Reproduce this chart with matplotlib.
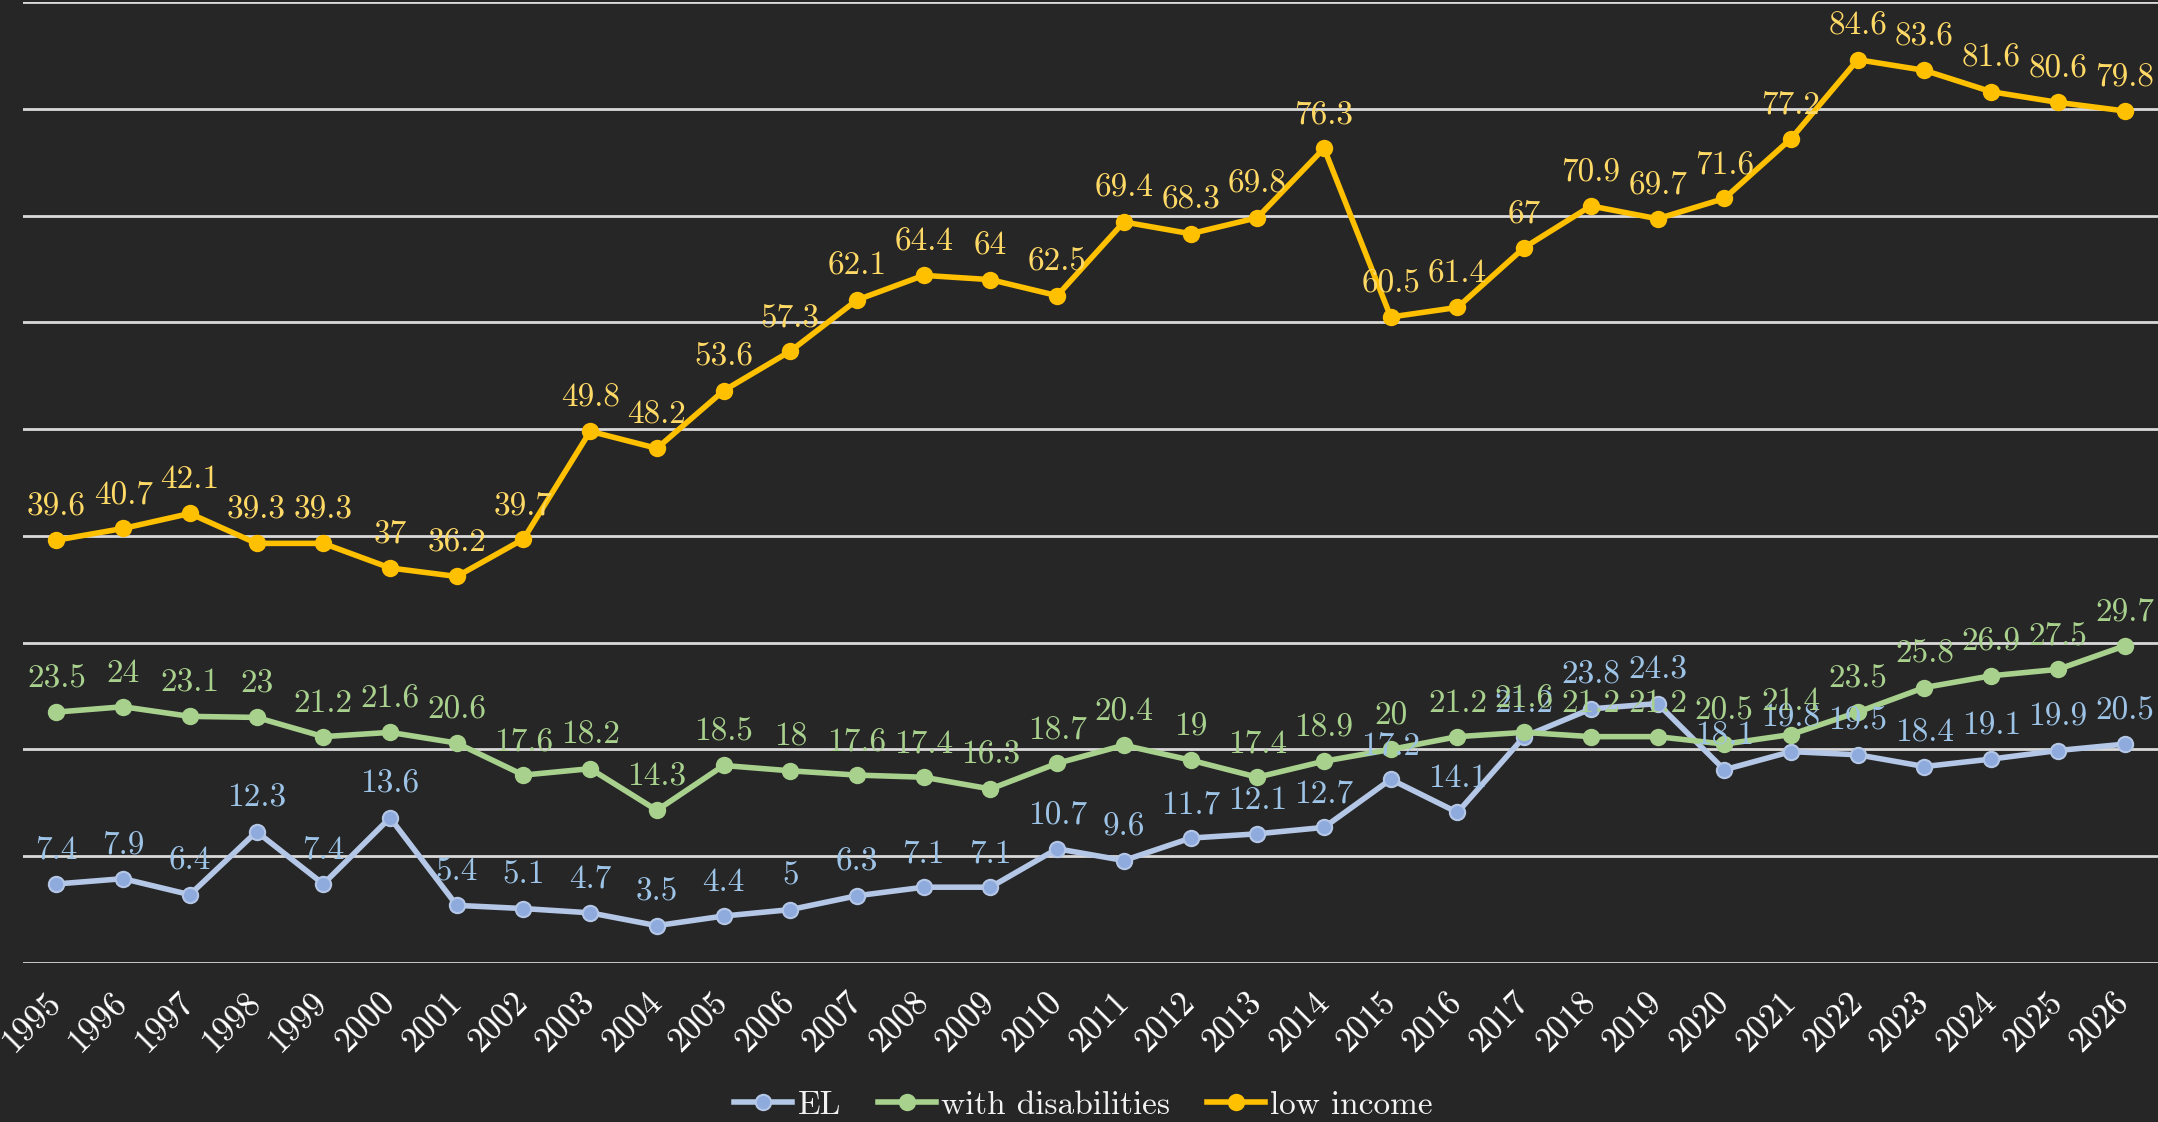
import matplotlib
matplotlib.use("Agg")
import matplotlib.pyplot as plt

# data
years = [str(y) for y in range(1995, 2027)]
el = [7.4, 7.9, 6.4, 12.3, 7.4, 13.6, 5.4, 5.1, 4.7, 3.5,
      4.4, 5, 6.3, 7.1, 7.1, 10.7, 9.6, 11.7, 12.1, 12.7,
      17.2, 14.1, 21.2, 23.8, 24.3, 18.1, 19.8, 19.5, 18.4, 19.1,
      19.9, 20.5]
disab = [23.5, 24, 23.1, 23, 21.2, 21.6, 20.6, 17.6, 18.2, 14.3,
         18.5, 18, 17.6, 17.4, 16.3, 18.7, 20.4, 19, 17.4, 18.9,
         20, 21.2, 21.6, 21.2, 21.2, 20.5, 21.4, 23.5, 25.8, 26.9,
         27.5, 29.7]
low_inc = [39.6, 40.7, 42.1, 39.3, 39.3, 37, 36.2, 39.7, 49.8, 48.2,
           53.6, 57.3, 62.1, 64.4, 64, 62.5, 69.4, 68.3, 69.8, 76.3,
           60.5, 61.4, 67, 70.9, 69.7, 71.6, 77.2, 84.6, 83.6, 81.6,
           80.6, 79.8]
series_names = ["EL", "with disabilities", "low income"]

bg = "#262626"
plt.rcParams['font.family'] = ['cmr10', 'DejaVu Serif']
plt.rcParams['axes.formatter.use_mathtext'] = True

fig = plt.figure(figsize=(21.58, 11.22), dpi=100, facecolor=bg)
ax = fig.add_axes([0.0107, 0.1417, 0.9893, 0.8565])
ax.set_facecolor(bg)

x = list(range(len(years)))

# (values, line colour, marker face, marker edge, label colour)
styles = [
    (el, "#B4C7E7", "#8FAADC", "#B4C7E7", "#9DC3E6"),
    (disab, "#A9D18E", "#A9D18E", "#A9D18E", "#A9D18E"),
    (low_inc, "#FFC000", "#FFC000", "#FFC000", "#FFD966"),
]

for (vals, lc, mf, me, tc), name in zip(styles, series_names):
    ax.plot(x, vals, color=lc, lw=4, marker='o', ms=11,
            markerfacecolor=mf, markeredgecolor=me, markeredgewidth=1.5,
            label=name, zorder=3)
    for xi, v in zip(x, vals):
        ax.annotate(f"{v:g}", (xi, v), xytext=(0, 18), textcoords='offset points',
                    ha='center', va='baseline', fontsize=24, color=tc, zorder=4)

ax.set_xlim(-0.5, len(years) - 0.5)
ax.set_ylim(0, 90)
ax.set_yticks(range(0, 91, 10))
ax.yaxis.grid(True, color="#D9D9D9", lw=2)
ax.set_axisbelow(True)
ax.tick_params(axis='y', left=False, labelleft=False)
ax.tick_params(axis='x', length=0, pad=25, colors='white')
ax.set_xticks(x)
ax.set_xticklabels(years, rotation=45, ha='right', va='center',
                   rotation_mode='anchor', fontsize=25, color='white')
for s in ax.spines.values():
    s.set_visible(False)

leg = fig.legend(loc='center', bbox_to_anchor=(0.502, 0.015), ncol=3,
                 frameon=False, fontsize=24, handlelength=1.75,
                 columnspacing=1.1, handletextpad=0.15, borderpad=0.2)
for t in leg.get_texts():
    t.set_color("#F2F2F2")

fig.savefig("out.png", dpi=100, facecolor=bg)
